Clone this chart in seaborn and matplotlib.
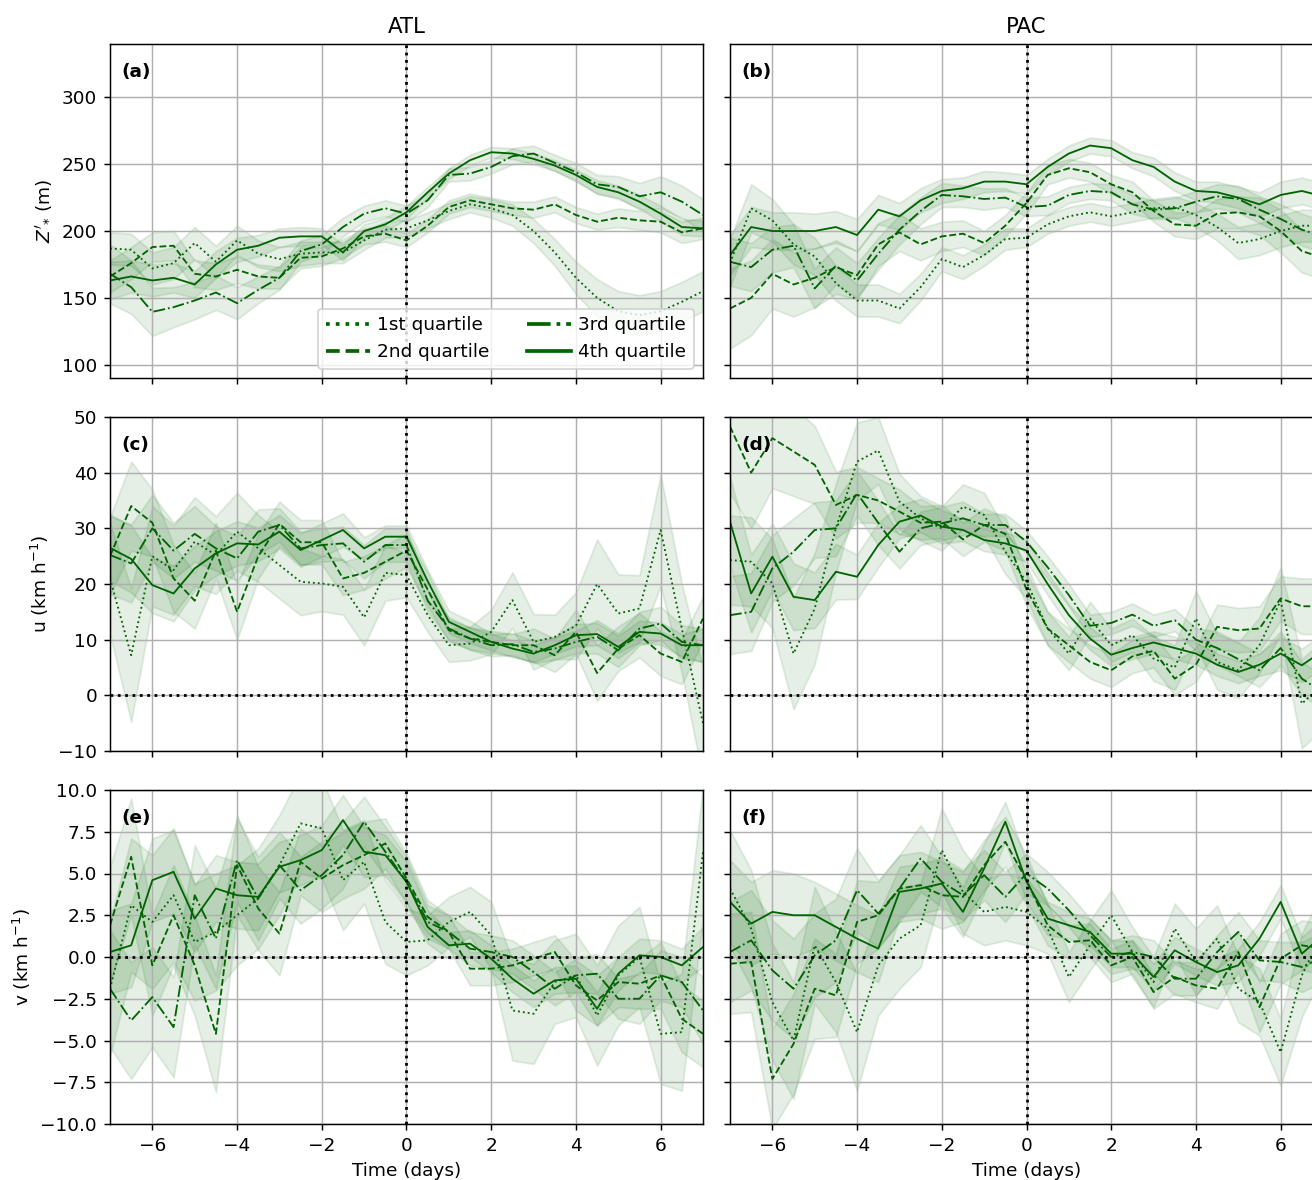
import numpy as np
import pandas as pd
import matplotlib
matplotlib.use("Agg")
import matplotlib.pyplot as plt
import seaborn as sns
from matplotlib.lines import Line2D

# ---------------- data ----------------
time_days = np.arange(-7, 7.01, 0.5)
quartile_labels = ["1st quartile", "2nd quartile", "3rd quartile", "4th quartile"]
regions = ["ATL", "PAC"]
var_labels = [r"$Z'_{*}$ (m)", r"u (km h$^{-1}$)", r"v (km h$^{-1}$)"]
panel_letters = ["(a)", "(b)", "(c)", "(d)", "(e)", "(f)"]

# ATL Z'
atl_z_q1 = [187,186,172,176,191,177,193,183,179,183,184,184,193,201,202,
            208,215,220,217,212,200,184,165,150,140,137,140,147,155]
atl_z_q2 = [166,176,188,189,168,166,171,166,165,180,181,187,196,198,193,
            204,218,223,220,217,216,220,212,207,210,208,207,199,202]
atl_z_q3 = [168,158,139.5,143,148,154,146,156,165,185,190,203,213,217,213,
            223,242,243,248,256,258,251,244,235,233,226,229,222,212]
atl_z_q4 = [163,166,163,165,160,175,186,189,195,196,196,184,200,205,214,
            229,243,253,259,258,254,249,242,233,229,222,213,203,202]
atl_z_q1_err = [12,12,12,12,12,12,11,10,9,9,8,8,7,6,6,6,6,6,7,8,9,10,12,14,15,15,15,15,15]
atl_z_q2_err = [12,12,11,11,10,10,10,9,8,8,7,7,6,6,5,5,5,5,5,5,6,6,6,6,7,7,8,8,8]
atl_z_q3_err = [22,20,18,15,14,13,12,10,9,8,7,7,6,6,6,5,5,5,5,6,6,6,7,7,8,10,12,12,12]
atl_z_q4_err = [14,12,12,11,10,10,9,8,7,7,6,6,5,5,5,4,4,4,4,4,4,4,4,5,5,5,6,6,6]

# PAC Z'
pac_z_q1 = [176,217,208,190,181,161,148,148,142,158,179,173,182,194,195,
            205,211,214,211,214,217,218,212,203,191,194,200,204,204]
pac_z_q2 = [142,150,168,160,165,173,167,190,199,190,196,198,191,204,221,
            242,247,244,235,229,215,205,204,213,214,211,200,185,180]
pac_z_q3 = [177,173,186,189,157,174,163,183,201,215,227,226,224,225,218,
            219,227,230,229,220,216,217,222,226,224,216,209,201,196]
pac_z_q4 = [182,203,200,200,200,203,197,216,211,223,230,232,237,237,235,
            248,258,264,262,253,248,237,230,229,225,220,227,230,226]
pac_z_q1_err = [18,18,16,15,14,13,12,12,11,10,9,9,8,8,7,7,7,7,7,7,7,8,9,10,12,12,12,12,12]
pac_z_q2_err = [30,28,26,24,22,20,18,16,14,12,11,10,9,8,8,7,7,7,7,8,8,9,10,11,12,14,16,16,16]
pac_z_q3_err = [18,18,17,16,15,14,13,12,11,10,9,8,8,7,7,7,6,6,6,7,7,8,8,9,10,10,11,12,12]
pac_z_q4_err = [15,15,14,14,13,12,12,11,10,9,9,8,8,7,7,6,6,6,6,6,7,7,7,8,8,9,10,10,10]

# ATL u
atl_u_q1 = [21,7.2,25,22.5,27.6,25.2,29.4,26.4,23.4,20.4,20.1,19.5,14,22,21.6,
            14.4,9,9.3,11.4,17.1,9.6,10.5,12.5,20,14.7,15.6,29.7,12,-5]
atl_u_q2 = [25,34,31,21,17,26,15,25,30.8,27.5,27.5,21,22,24,26,
            19,11.7,10.2,9.6,9,9,7.2,11.4,4,8.4,10.8,7.5,6,13.8]
atl_u_q3 = [25.2,23.7,30,26,29,26.4,24.6,29.4,30.6,26.4,27,27.3,24,27,27,
            17,12,10.2,9,9.2,7.8,8.4,9.6,10.5,8.1,12,12.9,9.6,9]
atl_u_q4 = [26.5,24.5,19.8,18.3,22.8,25.5,27.3,27.1,29.4,26.1,27.9,29.7,26.4,28.5,28.5,
            20.5,13.2,11.4,9.6,8.4,7.5,9,10.8,11,8.7,11.4,11.1,9,9]
atl_u_q1_err = [10,12,9,8,8,7,7,6,6,6,5,5,5,5,4,3,3,3,4,5,5,4,6,8,7,6,10,8,10]
atl_u_q2_err = [7,8,6,6,5,5,5,4,4,4,4,3,3,3,3,3,2,2,2,2,3,3,4,5,4,4,4,4,4]
atl_u_q3_err = [7,7,6,5,5,4,4,4,3,3,3,3,3,3,3,2,2,2,2,2,2,2,2,3,3,3,3,3,3]
atl_u_q4_err = [6,6,5,5,4,4,4,3,3,3,3,3,2,2,2,2,2,2,1.5,1.5,1.5,1.5,2,2,2,2,2,2,3]

# PAC u
pac_u_q1 = [24.3,24,20.1,7.5,15.6,30,42,44,34.8,31.8,30,33.9,32.4,25.8,20.4,
            12,7.5,13.8,9,10.8,6.6,5,13.8,6,4.5,9,17,-1.5,2]
pac_u_q2 = [48.3,40,46.2,43.8,41.4,34.2,36,35,33,31,31.2,28,30.6,29,19,
            12,9,6,4.5,7,8,3,5.5,12.3,11.7,12,17.4,16,16]
pac_u_q3 = [14.4,15,22.8,25.8,29.7,30,36.3,31,25.8,30,30.9,31.8,30.6,30.6,27.6,
            23,18,12.5,13,14.5,12.5,13.5,10,8.5,6.5,4.5,8.5,3,0.5]
pac_u_q4 = [31.2,18.3,24.9,17.7,17.1,22.2,21.3,27,31.2,32.3,30.3,29.7,27.9,27.3,26,
            20,14.4,10.2,7.3,8.5,9.5,8.5,7.5,5.5,4.2,5.5,7.5,5.4,8]
pac_u_q1_err = [8,8,8,10,10,8,7,6,5,4,4,4,4,4,3,3,3,3,3,3,4,4,5,5,5,5,6,8,8]
pac_u_q2_err = [12,10,9,8,7,6,5,4,4,3,3,3,3,3,3,3,3,3,3,3,3,3,3,4,4,4,4,5,5]
pac_u_q3_err = [7,7,6,6,5,5,4,4,3,3,3,3,2,2,2,2,2,2,2,2,2,2,2,3,3,3,3,3,3]
pac_u_q4_err = [8,7,6,6,5,5,4,4,3,3,3,2,2,2,2,2,2,2,2,2,2,2,2,2,2,2,3,3,3]

# ATL v
atl_v_q1 = [-1.9,3.1,2.1,3.7,0.9,1.5,2.5,3.5,5.5,8.0,7.7,4.6,5.7,2.1,0.9,
            1,2.1,2.7,1.3,-3.2,-3.4,-1.5,-1.1,-3.5,-1.1,0,-4.6,-4.5,6.3]
atl_v_q2 = [1.9,6,-0.5,2.5,-0.5,-4.6,5.5,2.9,1.4,5.7,4.7,5.5,6.1,6.8,4.7,
            2.4,1.5,-0.7,-0.7,-0.5,-0.1,0.3,-1.7,-2.6,-1.5,-1.6,-1.1,-3.7,-4.6]
atl_v_q3 = [-1.9,-3.8,-2.4,-4.2,3.7,1.1,5.8,3.5,5.5,4,4.9,6.1,8.1,6.3,4.5,
            2.1,1.5,0.5,0.3,0,-0.9,-1.9,-1.1,-1,-2.5,-2.5,-1.1,-1.5,-3.2]
atl_v_q4 = [0.3,0.7,4.6,5.1,2.3,4.1,3.7,3.6,5.4,5.8,6.4,8.2,6.3,6.1,4.5,
            1.8,0.7,0.8,-0.1,-1.3,-2.2,-1.4,-1.3,-3.1,-1.0,0.1,0,-0.5,0.6]
atl_v_q1_err = [4,4,4,4,3.5,3.5,3,3,3,3,3,3,2.5,2.5,2,1.5,1.5,1.5,2,3,3,2.5,2.5,3,3,3,3,3.5,4]
atl_v_q2_err = [3.5,3.5,3,3,3,3.5,3,2.5,2.5,2,2,2,2,1.5,1.5,1,1,1,1,1,1,1,1.5,1.5,1.5,1.5,2,2,2]
atl_v_q3_err = [3.5,3.5,3,3,3,3,2.5,2.5,2,2,2,2,1.5,1.5,1.5,1,1,1,1,1,1,1,1,1.2,1.2,1.5,1.5,1.5,2]
atl_v_q4_err = [2.5,2.5,2.5,2.5,2,2,2,2,1.5,1.5,1.5,1.5,1.5,1.2,1.2,1,0.8,0.8,0.8,0.8,0.8,0.8,0.8,1,1,1,1,1,1.2]

# PAC v
pac_v_q1 = [4.1,1.7,-2.7,-5,0.7,-1.5,-4.5,-0.5,1.1,1.9,6.4,3.9,2.7,3,2.7,
            1.7,-1.2,0.7,2.5,0.3,-1.5,1.7,-0.3,1.1,-1.9,-2.7,-5.7,-1.1,1.5]
pac_v_q2 = [-0.4,-0.3,-7.3,-5.2,-1.9,-2.3,2.1,2.5,4.1,4.3,3.7,3.6,5.5,6.9,4.6,
            1.9,0.9,1,-0.5,0,-2.1,-1.2,-1.7,-1.9,0.3,-3,-0.1,0.7,0.5]
pac_v_q3 = [0.3,1,-0.8,-1.9,0.1,1,4,2.6,4.1,5.9,4.5,3.7,4.9,3.6,5,
            4.1,2.8,1.3,0,0.3,0,-1.3,-1.3,0.3,1.5,-0.2,-0.3,-0.6,0]
pac_v_q4 = [3.3,2,2.7,2.5,2.5,1.8,1.1,0.5,3.9,4.1,4.4,2.7,5.3,8.1,4.5,
            2.3,1.9,1.5,0.2,0.2,-1.2,0.4,-0.3,-0.9,-0.5,1.1,3.3,0.2,1.3]
pac_v_q1_err = [3.5,3.5,3.5,3.5,3.5,3,3.5,3,3,2.5,2.5,2.5,2,2,2,1.5,1.5,1.5,1.5,1.5,1.5,1.5,2,2,2,2,2,2.5,2.5]
pac_v_q2_err = [3,3,3,3,3,2.5,2.5,2,2,2,2,1.5,1.5,1.5,1.5,1.2,1,1,1,1,1,1,1,1.2,1.2,1.5,1.5,1.5,1.5]
pac_v_q3_err = [3,3,3,3,2.5,2.5,2.5,2,2,2,1.5,1.5,1.5,1.5,1.2,1,1,1,1,1,1,1,1,1,1.2,1.2,1.2,1.5,1.5]
pac_v_q4_err = [2.5,2.5,2.5,2.5,2,2,2,2,1.5,1.5,1.5,1.5,1.5,1.2,1.2,1,0.8,0.8,0.8,0.8,0.8,0.8,0.8,0.8,1,1,1,1,1]

panel_data = [
    [(atl_z_q1, atl_z_q2, atl_z_q3, atl_z_q4), (atl_z_q1_err, atl_z_q2_err, atl_z_q3_err, atl_z_q4_err)],
    [(pac_z_q1, pac_z_q2, pac_z_q3, pac_z_q4), (pac_z_q1_err, pac_z_q2_err, pac_z_q3_err, pac_z_q4_err)],
    [(atl_u_q1, atl_u_q2, atl_u_q3, atl_u_q4), (atl_u_q1_err, atl_u_q2_err, atl_u_q3_err, atl_u_q4_err)],
    [(pac_u_q1, pac_u_q2, pac_u_q3, pac_u_q4), (pac_u_q1_err, pac_u_q2_err, pac_u_q3_err, pac_u_q4_err)],
    [(atl_v_q1, atl_v_q2, atl_v_q3, atl_v_q4), (atl_v_q1_err, atl_v_q2_err, atl_v_q3_err, atl_v_q4_err)],
    [(pac_v_q1, pac_v_q2, pac_v_q3, pac_v_q4), (pac_v_q1_err, pac_v_q2_err, pac_v_q3_err, pac_v_q4_err)],
]

# ---------------- style ----------------
GREEN = "#006400"
line_styles = [":", "--", "-.", "-"]
ylims = [(90, 340), (-10, 50), (-10, 10)]
yticks = [np.arange(100, 301, 50), np.arange(-10, 51, 10), np.arange(-10, 10.1, 2.5)]

DPI = 133
fig = plt.figure(figsize=(1312 / DPI, 1180 / DPI), dpi=DPI)
plt.rcParams["font.family"] = ["DejaVu Sans"]

W, H = 1312.0, 1180.0
lefts = [110 / W, 730 / W]
width = 593 / W
bottoms = [1 - 378 / H, 1 - 751 / H, 1 - 1124 / H]
height = 334 / H

axes = [[None, None] for _ in range(3)]
for r in range(3):
    for c in range(2):
        kw = {}
        if r > 0 or c > 0:
            kw["sharex"] = axes[0][0]
        if c == 1:
            kw["sharey"] = axes[r][0]
        axes[r][c] = fig.add_axes([lefts[c], bottoms[r], width, height], **kw)

for r in range(3):
    for c in range(2):
        ax = axes[r][c]
        idx = r * 2 + c
        vals, errs = panel_data[idx]
        ax.grid(True, color="#b0b0b0", linewidth=0.8)
        for v, e in zip(vals, errs):
            v = np.asarray(v, float)
            e = np.asarray(e, float)
            ax.fill_between(time_days, v - e, v + e, color=GREEN, alpha=0.1)
        for v, ls, lab in zip(vals, line_styles, quartile_labels):
            df = pd.DataFrame({"time": time_days, "value": v})
            sns.lineplot(data=df, x="time", y="value", ax=ax, color=GREEN,
                         linestyle=ls, linewidth=1.0, legend=False)
        ax.axvline(0, color="k", linestyle=":", linewidth=1.5, zorder=3)
        if r > 0:
            ax.axhline(0, color="k", linestyle=":", linewidth=1.5, zorder=3)
        ax.set_xlim(-7, 7)
        ax.set_ylim(*ylims[r])
        ax.set_yticks(yticks[r])
        ax.set_xticks([-6, -4, -2, 0, 2, 4, 6])
        ax.text(0.02, 0.915, panel_letters[idx], transform=ax.transAxes,
                fontweight="bold", ha="left", va="center", fontsize=10)
        if c == 0:
            ax.set_ylabel(var_labels[r])
        else:
            ax.set_ylabel("")
            ax.tick_params(labelleft=False)
        if r == 2:
            ax.set_xlabel("Time (days)")
        else:
            ax.set_xlabel("")
            ax.tick_params(labelbottom=False)
        if r == 0:
            ax.set_title(regions[c], fontsize=11.5)

handles = [Line2D([0], [0], color=GREEN, linestyle=ls, linewidth=2) for ls in line_styles]
axes[0][0].legend(handles, quartile_labels, loc="lower right", ncol=2,
                  handlelength=2.4, handletextpad=0.4)

fig.savefig("out.png", dpi=DPI)
